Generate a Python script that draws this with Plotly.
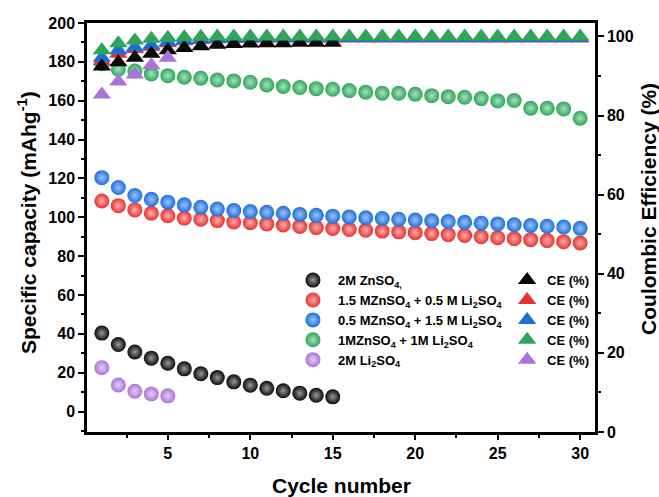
import plotly.graph_objects as go

cycles = list(range(1, 31))

# Specific capacity (mAh g-1)
cap_zn2 = [40.4, 34.5, 30.7, 27.5, 24.9, 22.0, 19.5, 17.5, 15.3, 13.6, 12.0, 10.7, 9.5, 8.4, 7.6]
cap_15zn = [108.4, 106.0, 103.8, 102.1, 100.8, 99.6, 99.0, 98.3, 97.6, 97.2, 96.6, 96.0,
            95.3, 94.7, 94.2, 93.7, 93.3, 92.9, 92.5, 92.1, 91.6, 91.1, 90.6, 90.0,
            89.5, 89.0, 88.5, 88.0, 87.4, 86.8]
cap_05zn = [120.4, 115.3, 111.2, 109.3, 107.8, 106.4, 105.2, 104.3, 103.5, 103.0, 102.6,
            102.1, 101.5, 101.0, 100.6, 100.2, 99.8, 99.4, 99.0, 98.6, 98.2, 97.8, 97.4,
            97.0, 96.6, 96.2, 95.8, 95.4, 95.0, 94.3]
cap_1zn = [179.0, 176.2, 175.3, 173.8, 172.9, 172.1, 171.6, 170.7, 170.2, 169.5, 168.1,
           167.3, 166.8, 166.2, 165.9, 165.2, 164.4, 163.9, 163.9, 163.3, 162.6, 162.1,
           161.8, 161.1, 159.9, 160.1, 156.1, 156.1, 155.8, 151.0]
cap_li2 = [22.6, 13.7, 10.5, 9.1, 8.1]

# Coulombic efficiency (%)
ce_zn2 = [92.4, 93.5, 94.6, 95.6, 96.5, 97.1, 97.5, 97.9, 98.1, 98.2, 98.3, 98.3, 98.4, 98.4, 98.4]
ce_15zn = [93.8, 95.6, 96.8, 97.4, 98.3, 98.8, 99.1, 99.3, 99.4, 99.5, 99.5, 99.5, 99.5, 99.5,
           99.5, 99.5, 99.5, 99.5, 99.5, 99.5, 99.5, 99.5, 99.5, 99.5, 99.5, 99.5, 99.5,
           99.5, 99.5, 99.5]
ce_05zn = [94.6, 96.5, 97.3, 97.8, 98.6, 99.0, 99.2, 99.4, 99.5, 99.5, 99.6, 99.6, 99.6, 99.6,
           99.6, 99.6, 99.6, 99.6, 99.6, 99.6, 99.6, 99.6, 99.6, 99.6, 99.6, 99.6, 99.6,
           99.6, 99.6, 99.6]
ce_1zn = [96.5, 98.3, 99.0, 99.4, 99.7, 99.8, 99.9, 100.0, 100.0, 100.0, 100.0, 100.0, 100.0,
          100.0, 100.0, 100.0, 100.0, 100.0, 100.0, 100.0, 100.0, 100.0, 100.0, 100.0, 100.0,
          100.0, 100.0, 100.0, 100.0, 100.0]
ce_li2 = [85.3, 88.6, 90.4, 92.7, 94.6]

labels = ["2M ZnSO<sub>4,</sub>",
          "1.5 MZnSO<sub>4</sub> + 0.5 M Li<sub>2</sub>SO<sub>4</sub>",
          "0.5 MZnSO<sub>4</sub> + 1.5 M Li<sub>2</sub>SO<sub>4</sub>",
          "1MZnSO<sub>4</sub> + 1M Li<sub>2</sub>SO<sub>4</sub>",
          "2M Li<sub>2</sub>SO<sub>4</sub>"]
ce_label = "CE (%)"
x_title = "<b>Cycle number</b>"
y_title = "<b>Specific capacity (mAhg<sup>-1</sup>)</b>"
y2_title = "<b>Coulombic Efficiency (%)</b>"

colors = ["#0a0a0a", "#e8312f", "#1c6fd9", "#2fa55a", "#a974d9"]
highlights = ["#9a9a9a", "#ffb0b0", "#9cc4ff", "#a6e2bb", "#e6cff8"]

caps = [cap_zn2, cap_15zn, cap_05zn, cap_1zn, cap_li2]
ces = [ce_zn2, ce_15zn, ce_05zn, ce_1zn, ce_li2]

FONT = "Liberation Sans, Arial, sans-serif"

fig = go.Figure()

for i in range(5):
    fig.add_trace(go.Scatter(
        x=cycles[:len(caps[i])], y=caps[i], mode="markers", name=labels[i],
        legend="legend",
        marker=dict(symbol="circle", size=15, color=colors[i],
                    gradient=dict(type="radial", color=highlights[i]),
                    line=dict(width=0)),
    ))

ce_order = [1, 2, 0, 4, 3]
ce_traces = {}
for i in range(5):
    ce_traces[i] = go.Scatter(
        x=cycles[:len(ces[i])], y=ces[i], mode="markers", name=ce_label,
        yaxis="y2", legend="legend2", legendrank=i + 1,
        marker=dict(symbol="triangle-up", size=16, color=colors[i], line=dict(width=0)),
    )
for i in ce_order:
    fig.add_trace(ce_traces[i])

axis_common = dict(
    showline=True, linecolor="black", linewidth=2.5, ticks="outside",
    tickcolor="black", tickwidth=2, showgrid=False, zeroline=False,
    tickfont=dict(family=FONT, size=16, color="black", weight="bold"),
)

fig.update_layout(
    width=659, height=497,
    margin=dict(l=87, r=64, t=23, b=65),
    paper_bgcolor="white", plot_bgcolor="white",
    font=dict(family=FONT, color="black"),
    showlegend=True,
    xaxis=dict(**axis_common, range=[0.1, 30.9], tick0=0, dtick=5, ticklen=5,
               mirror=True,
               minor=dict(ticks="outside", dtick=2.5, tick0=0, ticklen=3,
                          tickcolor="black", tickwidth=2)),
    yaxis=dict(**axis_common, range=[-10.5, 200], tick0=0, dtick=20, ticklen=6,
               minor=dict(ticks="outside", dtick=10, tick0=0, ticklen=3,
                          tickcolor="black", tickwidth=2)),
    yaxis2=dict(**axis_common, overlaying="y", side="right", range=[0, 103.4],
                tick0=0, dtick=20, ticklen=6,
                minor=dict(ticks="outside", dtick=10, tick0=0, ticklen=3,
                           tickcolor="black", tickwidth=2)),
    legend=dict(x=0.3956, y=0.408, xanchor="left", yanchor="top",
                bgcolor="rgba(0,0,0,0)", tracegroupgap=0, itemsizing="trace",
                itemwidth=40,
                font=dict(family=FONT, size=13, color="black", weight="bold")),
    legend2=dict(x=0.827, y=0.408, xanchor="left", yanchor="top",
                 bgcolor="rgba(0,0,0,0)", tracegroupgap=0, itemsizing="trace",
                 font=dict(family=FONT, size=13, color="black", weight="bold")),
    annotations=[
        dict(text=x_title, xref="paper", yref="paper", x=0.5, y=-0.132,
             xanchor="center", yanchor="middle",
             showarrow=False, font=dict(family=FONT, size=21, color="black")),
        dict(text=y_title, xref="paper", yref="paper", x=-0.118, y=0.511,
             xanchor="center", yanchor="middle",
             textangle=-90, showarrow=False, font=dict(family=FONT, size=21, color="black")),
        dict(text=y2_title, xref="paper", yref="paper", x=1.104, y=0.545,
             xanchor="center", yanchor="middle",
             textangle=-90, showarrow=False, font=dict(family=FONT, size=21, color="black")),
    ],
)

fig.write_html("out.html", config={"displayModeBar": False},
               post_script="document.body.style.margin='0';document.body.style.overflow='hidden';")
